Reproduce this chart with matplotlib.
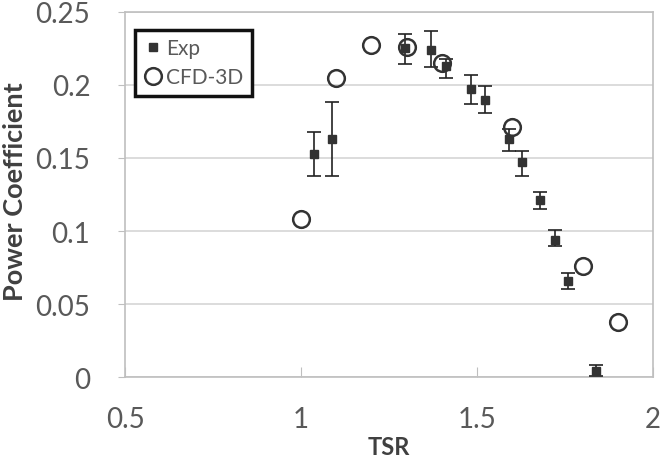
import numpy as np
import matplotlib
matplotlib.use('Agg')
import matplotlib.pyplot as plt
from matplotlib.lines import Line2D

# Experimental points (TSR, Cp) with asymmetric error bars
exp_tsr = [1.036, 1.087, 1.294, 1.368, 1.413, 1.484, 1.523, 1.592, 1.629, 1.679, 1.722, 1.759, 1.838]
exp_cp = [0.153, 0.163, 0.225, 0.224, 0.213, 0.197, 0.190, 0.163, 0.147, 0.121, 0.094, 0.066, 0.004]
exp_err_low = [0.015, 0.025, 0.011, 0.012, 0.008, 0.010, 0.009, 0.008, 0.009, 0.006, 0.004, 0.006, 0.003]
exp_err_high = [0.015, 0.025, 0.010, 0.013, 0.005, 0.010, 0.009, 0.007, 0.008, 0.006, 0.007, 0.005, 0.004]

# CFD-3D simulation points
cfd_tsr = [1.0, 1.1, 1.2, 1.3, 1.4, 1.6, 1.8, 1.9]
cfd_cp = [0.108, 0.205, 0.227, 0.226, 0.215, 0.171, 0.076, 0.038]

x_ticks = [0.5, 1, 1.5, 2]
x_tick_labels = ['0.5', '1', '1.5', '2']
y_ticks = [0, 0.05, 0.1, 0.15, 0.2, 0.25]
y_tick_labels = ['0', '0.05', '0.1', '0.15', '0.2', '0.25']

plt.rcParams['font.family'] = ['Lato', 'DejaVu Sans']

fig = plt.figure(figsize=(6.65, 4.6), dpi=100)
ax = fig.add_axes([0.188, 0.178, 0.794, 0.794])

ax.errorbar(exp_tsr, exp_cp, yerr=[exp_err_low, exp_err_high],
            fmt='s', color='#333333', markersize=6, ecolor='#222222',
            elinewidth=1.2, capsize=5, capthick=1.2, zorder=3)
ax.plot(cfd_tsr, cfd_cp, 'o', markerfacecolor='none', markeredgecolor='#333333',
        markersize=12, markeredgewidth=1.8, zorder=4)

ax.set_xlim(0.5, 2)
ax.set_ylim(0, 0.25)
ax.set_xticks(x_ticks)
ax.set_xticklabels(x_tick_labels)
ax.set_yticks(y_ticks)
ax.set_yticklabels(y_tick_labels)

ax.yaxis.grid(True, color='#d9d9d9', linewidth=1.3)
ax.set_axisbelow(True)

for side in ['left', 'right', 'top', 'bottom']:
    ax.spines[side].set_color('#bfbfbf')
    ax.spines[side].set_linewidth(1.2)

ax.tick_params(axis='y', direction='out', length=5, pad=20, colors='#bfbfbf',
               labelcolor='#595959', labelsize=20)
ax.tick_params(axis='x', direction='in', length=7, pad=21, colors='#bfbfbf',
               labelcolor='#595959', labelsize=20)

ax.set_xlabel('TSR', fontsize=17, fontweight='bold', color='#404040')
ax.set_ylabel('Power Coefficient', fontsize=19.5, fontweight='bold', color='#404040')
ax.xaxis.set_label_coords(0.5, -0.158)
ax.yaxis.set_label_coords(-0.186, 0.51)

# legend: markers only, Exp listed first
handles = [
    Line2D([], [], linestyle='none', marker='s', color='#333333', markersize=6),
    Line2D([], [], linestyle='none', marker='o', markerfacecolor='none',
           markeredgecolor='#333333', markersize=12, markeredgewidth=1.8),
]
leg = ax.legend(handles, ['Exp', 'CFD-3D'], loc='upper left',
                bbox_to_anchor=(0.019, 0.951), borderaxespad=0,
                fancybox=False, fontsize=15, handletextpad=0.2, handlelength=0.9,
                borderpad=0.4, labelspacing=0.45, framealpha=1)
leg.get_frame().set_edgecolor('#111111')
leg.get_frame().set_linewidth(2.5)
for t in leg.get_texts():
    t.set_color('#595959')

fig.savefig('out.png', dpi=100)
